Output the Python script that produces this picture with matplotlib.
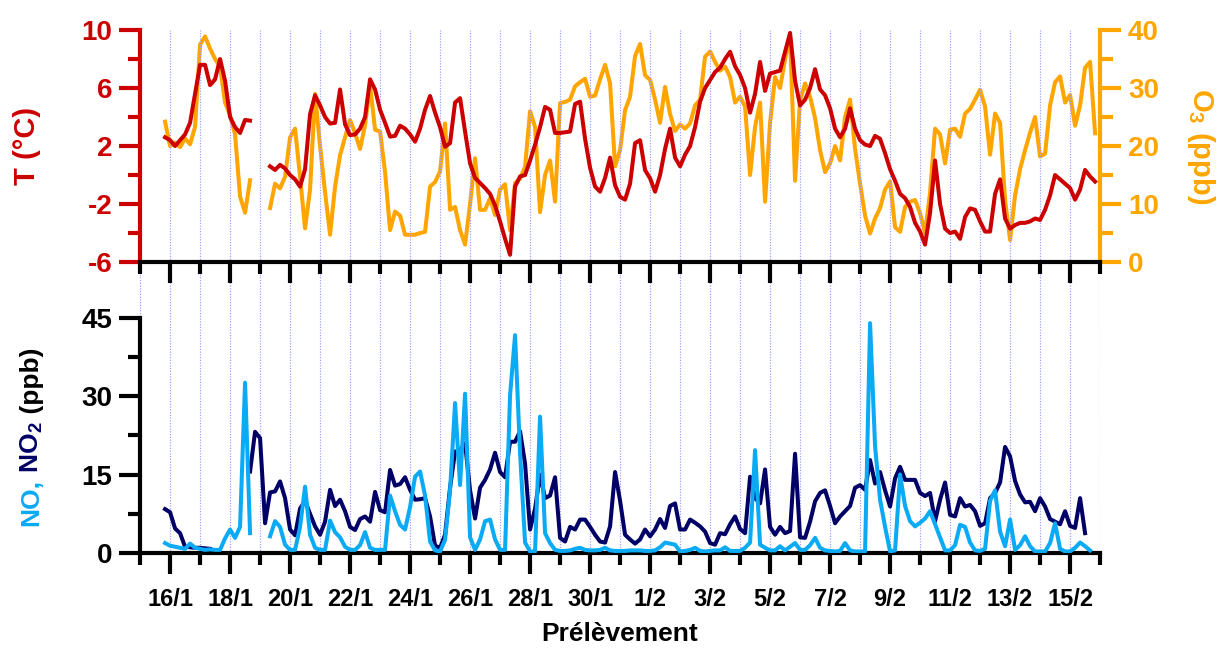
import numpy as np
import matplotlib
matplotlib.use('Agg')
import matplotlib.pyplot as plt
from matplotlib.ticker import FixedLocator, MultipleLocator

plt.rcParams['font.family'] = ['Liberation Sans', 'DejaVu Sans']
plt.rcParams['font.weight'] = 'bold'
plt.rcParams['axes.unicode_minus'] = False
plt.rcParams['mathtext.fontset'] = 'custom'
plt.rcParams['mathtext.rm'] = 'Liberation Sans:bold'
plt.rcParams['mathtext.it'] = 'Liberation Sans:bold'
plt.rcParams['mathtext.bf'] = 'Liberation Sans:bold'

nan = np.nan

# 4-hourly samples; x axis is in days since 15/1 00:00, first sample 15/1 20:00
t_first = 5 / 6
t_step = 1 / 6

temp = [
    2.6, 2.4, 2.0, 2.4, 2.8, 3.6,
    5.6, 7.6, 7.6, 6.2, 6.6, 8.0,
    6.5, 4.0, 3.3, 2.9, 3.8, 3.75,
    nan, nan, nan, 0.6, 0.35, 0.7,
    0.45, 0.0, -0.3, -0.8, 0.4, 4.2,
    5.5, 4.8, 4.0, 3.55, 3.6, 5.9,
    3.5, 2.75, 2.8, 3.2, 4.0, 6.6,
    5.9, 4.5, 3.6, 2.65, 2.7, 3.4,
    3.2, 2.8, 2.3, 3.2, 4.5, 5.45,
    4.3, 3.3, 1.95, 2.2, 5.0, 5.3,
    3.0, 0.8, -0.2, -0.55, -0.9, -1.3,
    -2.1, -3.2, -4.4, -5.5, -0.8, -0.1,
    0.0, 1.0, 2.1, 3.3, 4.7, 4.5,
    2.9, 2.9, 2.95, 3.0, 4.9, 5.06,
    2.5, 0.5, -0.8, -1.15, -0.2, 1.2,
    -0.7, -1.5, -1.7, -0.6, 2.2, 2.4,
    0.34, -0.23, -1.15, 0.0, 1.8, 3.2,
    1.2, 0.6, 1.4, 2.0, 3.3, 5.06,
    6.0, 6.55, 7.1, 7.4, 8.0, 8.5,
    7.5, 6.9, 6.0, 4.3, 5.6, 7.8,
    5.8, 7.0, 7.1, 7.2, 8.5, 9.8,
    6.5, 4.8, 5.2, 6.0, 7.3, 5.9,
    5.5, 4.6, 3.2, 2.6, 3.2, 4.6,
    3.2, 2.4, 2.1, 2.0, 2.7, 2.5,
    1.5, 0.4, -0.4, -1.3, -1.6, -2.2,
    -3.3, -3.9, -4.8, -2.6, 1.0, -2.0,
    -3.7, -4.0, -3.9, -4.4, -2.9, -2.3,
    -2.4, -3.2, -3.9, -3.9, -1.3, -0.3,
    -3.0, -3.7, -3.45, -3.3, -3.3, -3.2,
    -3.0, -3.1, -2.4, -1.4, 0.0, -0.3,
    -0.6, -0.9, -1.7, -1.0, 0.35, -0.1,
    -0.45,
]

ozone = [
    24.2, 20.0, 20.6, 19.8, 21.3, 20.3,
    23.3, 37.5, 38.9, 36.8, 35.0, 33.7,
    27.5, 25.3, 22.0, 11.3, 8.5, 14.1,
    nan, nan, nan, 9.3, 13.5, 12.7,
    14.7, 21.5, 23.0, 14.7, 5.8, 12.5,
    29.0, 20.0, 12.0, 4.7, 13.0, 18.4,
    21.5, 24.5, 22.2, 19.5, 23.6, 30.5,
    22.8, 22.5, 15.5, 5.5, 8.7, 8.0,
    4.7, 4.7, 4.7, 5.0, 5.2, 13.0,
    13.8, 15.6, 23.9, 9.0, 9.5, 5.5,
    3.0, 10.0, 17.9, 9.0, 9.0, 11.0,
    8.1, 12.5, 13.4, 5.5, 13.6, 14.4,
    16.4, 26.0, 23.3, 8.6, 15.0, 17.5,
    10.4, 27.4, 27.6, 28.0, 30.3, 31.0,
    31.6, 28.5, 28.7, 31.5, 34.0, 30.8,
    16.5, 19.3, 26.2, 28.5, 35.5, 37.6,
    32.2, 31.4, 28.0, 24.0, 30.2, 25.5,
    22.6, 23.7, 23.0, 23.9, 27.0, 28.0,
    35.4, 36.3, 34.5, 33.0, 33.7, 31.9,
    27.5, 28.5, 26.8, 15.0, 23.3, 27.5,
    10.4, 24.0, 31.9, 30.0, 35.0, 39.0,
    14.0, 27.9, 30.8, 28.5, 24.8, 19.3,
    15.5, 17.0, 20.0, 17.5, 25.0, 28.0,
    19.5, 13.5, 8.0, 4.9, 7.5, 9.3,
    12.5, 13.9, 6.0, 5.2, 9.5, 10.4,
    10.7, 8.4, 5.0, 12.0, 23.0, 22.0,
    17.0, 22.8, 23.0, 21.6, 25.6, 26.4,
    28.0, 29.7, 26.8, 18.5, 25.6, 24.0,
    10.7, 3.8, 11.5, 16.0, 19.3, 22.3,
    25.0, 18.2, 18.7, 27.0, 31.0, 32.0,
    27.5, 28.8, 23.5, 27.0, 33.5, 34.5,
    22.2,
]

no = [
    1.9, 1.4, 1.2, 1.0, 0.8, 1.8,
    1.0, 0.8, 0.6, 0.7, 0.6, 0.6,
    2.8, 4.5, 2.9, 5.0, 32.6, 3.8,
    nan, nan, nan, 3.2, 6.1, 5.0,
    1.6, 0.6, 0.6, 5.0, 12.7, 3.5,
    1.0, 0.6, 0.6, 6.2, 4.0, 3.0,
    1.2, 0.6, 0.6, 1.5, 4.0, 1.0,
    0.6, 0.6, 0.6, 11.0, 8.0, 5.4,
    4.5, 8.8, 14.6, 15.6, 11.0, 2.2,
    0.5, 0.3, 2.5, 12.0, 28.7, 13.0,
    30.5, 3.0, 0.6, 2.6, 6.1, 6.4,
    2.6, 0.6, 0.6, 30.2, 41.7, 19.1,
    2.0, 0.3, 0.3, 26.1, 3.8, 1.9,
    0.6, 0.4, 0.4, 0.5, 0.8, 1.0,
    0.6, 0.5, 0.5, 0.6, 1.0, 0.5,
    0.4, 0.4, 0.4, 0.5, 0.5, 0.5,
    0.4, 0.4, 0.5, 1.1, 2.0, 1.8,
    1.6, 0.3, 0.4, 0.6, 1.0, 0.4,
    0.3, 0.4, 0.5, 0.5, 1.1, 0.4,
    0.4, 0.4, 1.0, 2.0, 19.7, 1.6,
    1.0, 0.5, 0.5, 1.3, 0.5, 1.2,
    1.9, 0.6, 0.6, 1.5, 2.9, 1.0,
    0.5, 0.4, 0.3, 0.4, 1.9, 0.5,
    0.3, 0.3, 0.3, 44.0, 20.4, 10.2,
    5.0, 0.3, 0.5, 15.0, 9.0, 6.1,
    5.1, 5.8, 6.6, 8.0, 5.5, 3.0,
    0.5, 0.5, 1.5, 5.4, 5.0, 2.0,
    0.5, 0.4, 0.8, 10.0, 12.0, 4.1,
    1.3, 6.4, 0.6, 1.5, 3.2, 1.3,
    0.3, 0.3, 0.3, 1.9, 5.7, 0.8,
    0.3, 0.3, 1.0, 2.0, 1.3, 0.5,
    nan,
]

no2 = [
    8.4, 7.8, 4.7, 3.8, 1.2, 1.1,
    1.0, 1.0, 0.9, 0.8, nan, nan,
    nan, nan, nan, nan, nan, 15.6,
    23.2, 22.0, 5.7, 11.6, 11.8, 13.7,
    10.5, 4.5, 3.4, 8.5, 10.0, 7.5,
    5.1, 3.5, 6.0, 12.1, 9.0, 10.2,
    8.0, 5.0, 4.4, 6.5, 7.0, 6.0,
    11.7, 8.2, 7.8, 15.9, 12.9, 13.2,
    14.5, 12.1, 10.2, 10.3, 10.5, 7.0,
    1.4, 1.0, 3.5, 12.5, 19.4, 19.7,
    21.0, 12.0, 6.6, 12.5, 14.0, 16.0,
    19.2, 15.5, 14.5, 21.3, 21.3, 23.3,
    17.1, 4.5, 8.5, 15.0, 10.5, 11.0,
    14.5, 2.9, 2.2, 5.0, 4.5, 6.4,
    6.4, 5.0, 3.5, 2.2, 2.0, 5.1,
    15.5, 10.0, 3.5, 2.6, 1.8, 2.6,
    4.5, 3.2, 4.5, 6.5, 4.8, 9.0,
    9.5, 4.5, 4.5, 6.4, 5.8, 5.1,
    4.1, 1.9, 1.6, 3.8, 3.6, 5.5,
    7.0, 4.6, 3.8, 14.6, 10.5, 9.5,
    16.0, 5.0, 3.5, 5.0, 3.8, 4.2,
    19.0, 3.0, 2.9, 6.0, 9.9, 11.5,
    12.0, 9.0, 5.7, 7.0, 8.0, 9.0,
    12.5, 13.0, 12.1, 17.8, 13.3, 15.5,
    12.0, 8.9, 14.3, 16.5, 14.0, 14.0,
    14.0, 11.5, 10.9, 11.5, 6.1, 10.2,
    13.5, 7.3, 7.0, 10.5, 8.9, 9.2,
    8.0, 5.2, 5.7, 10.5, 11.5, 13.5,
    20.3, 18.5, 13.8, 11.2, 9.7, 9.8,
    8.0, 10.5, 8.9, 6.5, 6.0, 5.5,
    8.0, 5.2, 4.8, 10.5, 3.8, nan,
    nan,
]

date_labels = ['16/1', '18/1', '20/1', '22/1', '24/1', '26/1', '28/1', '30/1',
               '1/2', '3/2', '5/2', '7/2', '9/2', '11/2', '13/2', '15/2']
temp_ticks = [-6, -2, 2, 6, 10]
nox_ticks = [0, 15, 30, 45]

RED = '#cc0000'
ORANGE = '#ffa500'
NO_BLUE = '#0aaaf5'
NO2_NAVY = '#000066'
GRID = '#a0a0ff'

LW = 2.9
SPINE_W = 3.0
YTICK_SIZE = 20
XTICK_SIZE = 17

t = t_first + t_step * np.arange(len(temp))
day_major = np.arange(1, 32, 2)
day_minor = np.arange(0, 33, 2)

fig = plt.figure(figsize=(12.2, 6.5), dpi=100)
ax_n = fig.add_axes([0.1148, 0.1492, 0.7869, 0.4477])
ax_t = fig.add_axes([0.1148, 0.5969, 0.7869, 0.3569])
ax_o = ax_t.twinx()
ax_t.set_zorder(ax_o.get_zorder() + 1)
for a in (ax_n, ax_t, ax_o):
    a.patch.set_visible(False)


def day_axis(ax):
    ax.set_xlim(0, 32)
    ax.xaxis.set_major_locator(FixedLocator(day_major))
    ax.xaxis.set_minor_locator(FixedLocator(day_minor))
    ax.tick_params(axis='x', which='major', direction='out', length=15, width=SPINE_W, color='black')
    ax.tick_params(axis='x', which='minor', direction='out', length=8.5, width=SPINE_W, color='black')
    ax.grid(which='both', axis='x', linestyle=(0, (1, 1.2)), color=GRID, linewidth=0.9)
    ax.set_axisbelow(True)


# --- top panel: temperature and ozone
day_axis(ax_t)
ax_t.plot(t, temp, color=RED, lw=LW, zorder=3)
ax_t.set_ylim(-6, 10)
ax_t.yaxis.set_major_locator(FixedLocator(temp_ticks))
ax_t.yaxis.set_minor_locator(FixedLocator([-4, 0, 4, 8]))
ax_t.tick_params(axis='x', labelbottom=False)
ax_t.tick_params(axis='y', which='major', length=15, width=SPINE_W, color=RED,
                 labelcolor=RED, labelsize=YTICK_SIZE, pad=5)
ax_t.tick_params(axis='y', which='minor', length=9, width=SPINE_W, color=RED)
for side in ('top', 'right'):
    ax_t.spines[side].set_visible(False)
ax_t.spines['left'].set_color(RED)
ax_t.spines['left'].set_linewidth(SPINE_W)
ax_t.spines['bottom'].set_linewidth(SPINE_W)
ax_t.set_ylabel('T (°C)', color=RED, fontsize=21, fontweight='bold', labelpad=29)

ax_o.plot(t, ozone, color=ORANGE, lw=LW)
ax_o.set_ylim(0, 40)
ax_o.yaxis.set_major_locator(MultipleLocator(10))
ax_o.yaxis.set_minor_locator(MultipleLocator(5))
ax_o.tick_params(axis='y', which='major', length=15, width=SPINE_W, color=ORANGE,
                 labelcolor=ORANGE, labelsize=YTICK_SIZE, pad=5)
ax_o.tick_params(axis='y', which='minor', length=9, width=SPINE_W, color=ORANGE)
for side in ('top', 'left', 'bottom'):
    ax_o.spines[side].set_visible(False)
ax_o.spines['right'].set_color(ORANGE)
ax_o.spines['right'].set_linewidth(SPINE_W)
ax_o.set_ylabel('O$_{3}$ (ppb)', color=ORANGE, fontsize=21, fontweight='bold',
                rotation=270, labelpad=42)

# --- bottom panel: NO and NO2
day_axis(ax_n)
ax_n.plot(t, no, color=NO_BLUE, lw=LW, zorder=3)
ax_n.plot(t, no2, color=NO2_NAVY, lw=LW, zorder=2)
ax_n.set_ylim(0, 55.7)
ax_n.yaxis.set_major_locator(FixedLocator(nox_ticks))
ax_n.yaxis.set_minor_locator(FixedLocator([7.5, 22.5, 37.5]))
ax_n.set_xticklabels(date_labels)
ax_n.tick_params(axis='x', which='major', labelsize=XTICK_SIZE, pad=10)
ax_n.tick_params(axis='y', which='major', length=15, width=SPINE_W, labelsize=YTICK_SIZE, pad=5)
ax_n.tick_params(axis='y', which='minor', length=9, width=SPINE_W)
for side in ('top', 'right'):
    ax_n.spines[side].set_visible(False)
ax_n.spines['left'].set_bounds(0, 45)
ax_n.spines['left'].set_linewidth(SPINE_W)
ax_n.spines['bottom'].set_linewidth(SPINE_W)
ax_n.set_xlabel('Prélèvement', fontsize=19, fontweight='bold', labelpad=8)

# multicoloured y label, pieces stacked bottom to top
renderer = fig.canvas.get_renderer()
pieces = [('NO,', NO_BLUE), (' NO$_{2}$', NO2_NAVY), (' (ppb)', 'black')]
y_pos = 0.19
for txt, col in pieces:
    h = fig.text(0.026, y_pos, txt, color=col, rotation=90, fontsize=19,
                 fontweight='bold', ha='center', va='bottom')
    y_pos += h.get_window_extent(renderer).height / fig.bbox.height

fig.savefig('out.png', dpi=100)
